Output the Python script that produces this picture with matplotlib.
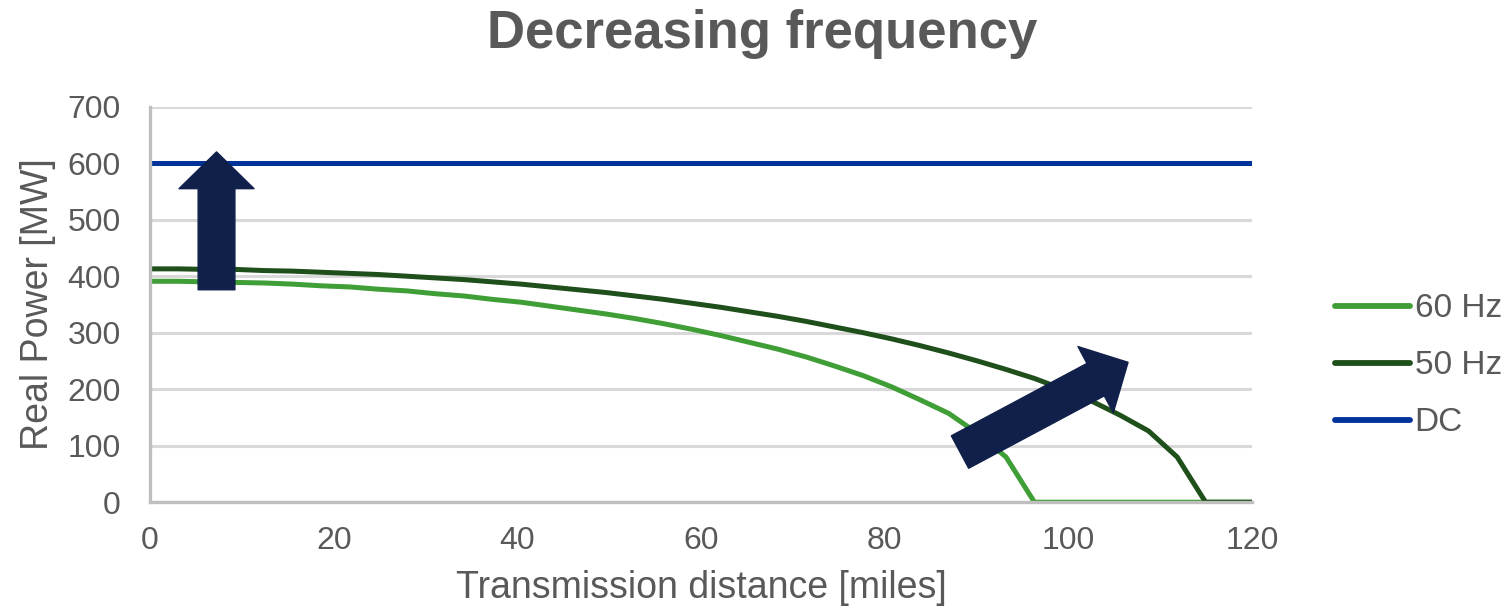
import matplotlib.pyplot as plt
from matplotlib.patches import FancyArrowPatch, ArrowStyle

plt.rcParams['font.family'] = ['Liberation Sans', 'DejaVu Sans']

# distance in miles (5 km steps)
distance = [0, 3.11, 6.21, 9.32, 12.43, 15.53, 18.64, 21.75, 24.85, 27.96,
            31.07, 34.18, 37.28, 40.39, 43.50, 46.60, 49.71, 52.82, 55.92, 59.03,
            62.14, 65.24, 68.35, 71.46, 74.56, 77.67, 80.78, 83.89, 86.99, 90.10,
            93.21, 96.31, 99.42, 102.53, 105.63, 108.74, 111.85, 114.95, 118.06, 120]

p_60hz = [391, 391, 390, 389, 388, 386, 383, 381, 377, 374,
          369, 365, 359, 354, 347, 340, 333, 325, 316, 306,
          295, 283, 271, 257, 241, 224, 204, 181, 157, 122,
          80, 0, 0, 0, 0, 0, 0, 0, 0, 0]

p_50hz = [413, 413, 412, 412, 410, 409, 407, 405, 403, 400,
          397, 394, 390, 386, 381, 376, 371, 365, 359, 352,
          345, 337, 329, 320, 310, 300, 289, 277, 264, 250,
          235, 219, 200, 179, 154, 126, 80, 0, 0, 0]

p_dc = [600] * len(distance)

series = ['60 Hz', '50 Hz', 'DC']
colors = ['#3f9e36', '#1f4f1a', '#003399']

fig = plt.figure(figsize=(15.11, 6.15), dpi=100)
ax = fig.add_axes([0.0993, 0.1834, 0.7293, 0.6431])

for vals, name, c in zip([p_60hz, p_50hz, p_dc], series, colors):
    ax.plot(distance, vals, color=c, lw=3.6, label=name, solid_capstyle='round')

ax.set_xlim(0, 120)
ax.set_ylim(0, 700)
ax.set_xticks(range(0, 121, 20))
ax.set_yticks(range(0, 701, 100))
ax.grid(axis='y', color='#d9d9d9', lw=2.2, zorder=0)
ax.set_axisbelow(True)
for s in ['top', 'right']:
    ax.spines[s].set_visible(False)
for s in ['left', 'bottom']:
    ax.spines[s].set_color('#bfbfbf')
    ax.spines[s].set_linewidth(2.4)
ax.tick_params(length=0, labelsize=23, labelcolor='#595959')
ax.tick_params(axis='y', pad=21)
ax.tick_params(axis='x', pad=17)

ax.set_xlabel('Transmission distance [miles]', fontsize=27, color='#595959', labelpad=10)
ax.set_ylabel('Real Power [MW]', fontsize=27, color='#595959', labelpad=8)
fig.text(0.5045, 0.945, 'Decreasing frequency', fontsize=38, fontweight='bold',
         color='#595959', ha='center', va='center')

# arrows
style = ArrowStyle.Simple(head_length=0.49, head_width=1.0, tail_width=0.49)
for start, end in [((7.24, 376), (7.24, 620)), ((88.2, 88.8), (106.5, 247.6))]:
    arr = FancyArrowPatch(start, end, arrowstyle=style, mutation_scale=54,
                          color='#10204a', shrinkA=0, shrinkB=0, zorder=5)
    ax.add_patch(arr)

leg = ax.legend(loc='center left', bbox_to_anchor=(1.075, 0.345), frameon=False,
                fontsize=24, handlelength=2.25, handletextpad=0.15, labelspacing=0.78,
                borderpad=0, borderaxespad=0, labelcolor='#595959')
for line in leg.get_lines():
    line.set_linewidth(4.2)

fig.savefig('out.png', dpi=100)
